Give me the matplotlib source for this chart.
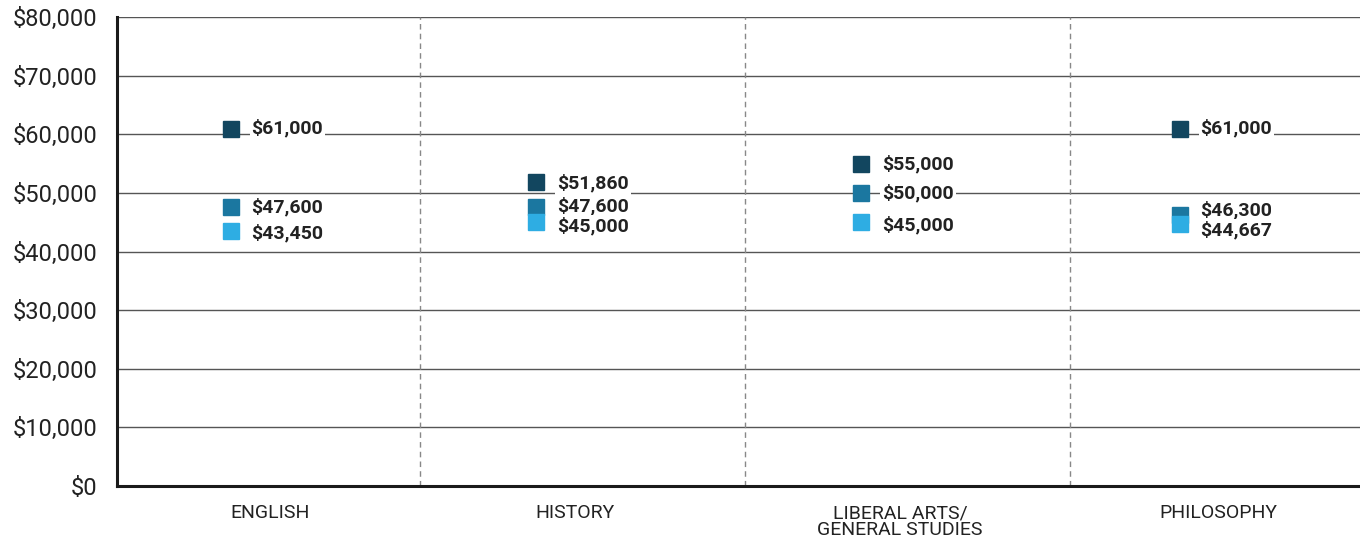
import matplotlib.pyplot as plt

categories = ["ENGLISH", "HISTORY", "LIBERAL ARTS/\nGENERAL STUDIES", "PHILOSOPHY"]
series_top = [61000, 51860, 55000, 61000]
series_mid = [47600, 47600, 50000, 46300]
series_low = [43450, 45000, 45000, 44667]
y_ticks = [0, 10000, 20000, 30000, 40000, 50000, 60000, 70000, 80000]

colors = ["#12465f", "#1b77a0", "#2eade3"]
# label nudges (points) where squares sit close together
nudge_top = [0, -1, 0, 0]
nudge_mid = [0, 1, 0, 3]
nudge_low = [-1, -3, -2, -4]

plt.rcParams['font.family'] = ['Roboto', 'DejaVu Sans']

fig = plt.figure(figsize=(13.6, 5.38), dpi=100)
ax = fig.add_axes([0.086, 0.0967, 0.914, 0.8713])

centers = [0.47, 1.41, 2.41, 3.39]
offset = -0.12
ax.set_xlim(0, 3.825)
ax.set_ylim(0, 80000)

for yv in y_ticks[1:]:
    ax.axhline(yv, color="#555555", lw=1.0, zorder=1)
for sep in [0.932, 1.932, 2.932]:
    ax.axvline(sep, color="#888888", lw=1.0, ls=(0, (4, 3)), zorder=1)

for vals, col, nud in [(series_top, colors[0], nudge_top),
                       (series_mid, colors[1], nudge_mid),
                       (series_low, colors[2], nudge_low)]:
    xs = [c + offset for c in centers]
    ax.plot(xs, vals, ls="none", marker="s", ms=11, color=col, zorder=3)
    for x, v, n in zip(xs, vals, nud):
        ax.annotate("${:,}".format(v), (x, v), xytext=(15, n), textcoords="offset points",
                    ha="left", va="center", fontsize=14, fontweight="bold", color="#222222",
                    bbox=dict(boxstyle="square,pad=0.1", fc="white", ec="none"), zorder=4)

ax.set_yticks(y_ticks)
ax.set_yticklabels(["${:,}".format(t) for t in y_ticks], fontsize=17, color="#222222")
ax.set_xticks(centers)
ax.set_xticklabels(categories, fontsize=14, color="#222222", linespacing=0.95)
ax.tick_params(axis="y", length=0, pad=14)
ax.tick_params(axis="x", length=0, pad=13)

for side in ["top", "right"]:
    ax.spines[side].set_visible(False)
for side in ["left", "bottom"]:
    ax.spines[side].set_linewidth(2.2)
    ax.spines[side].set_color("#1a1a1a")
    ax.spines[side].set_zorder(5)

fig.savefig("out.png", dpi=100)
